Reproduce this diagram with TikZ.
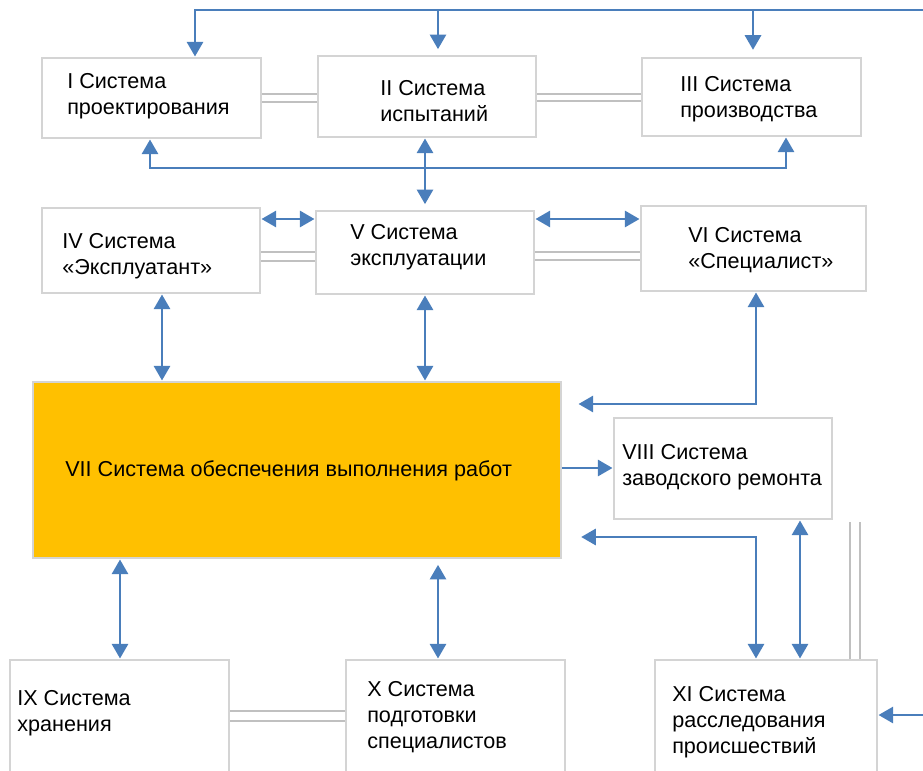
\documentclass[tikz,border=0pt]{standalone}
\usepackage{fontspec}
\setmainfont{Liberation Sans}
\usetikzlibrary{arrows.meta, calc}
\definecolor{cblue}{HTML}{4A7EBB}
\definecolor{cframe}{HTML}{D4D4D4}
\definecolor{clink}{HTML}{C0C0C0}
\definecolor{corange}{HTML}{FFC000}
\tikzset{
  every picture/.style={x=0.75pt, y=-0.75pt},
  sbox/.style={draw=cframe, fill=white, line width=2.2pt, inner sep=0pt},
  lbl/.style={anchor=west, inner sep=0pt, align=left, font=\fontsize{16.2}{19.5}\selectfont},
  ar/.style={-{Triangle[length=11pt, width=12pt]}, draw=cblue, line width=2.2pt},
  dar/.style={{Triangle[length=11pt, width=12pt]}-{Triangle[length=11pt, width=12pt]}, draw=cblue, line width=2.2pt},
  dbl/.style={draw=clink, double=white, line width=1.6pt, double distance=#1},
  dbl/.default=4pt,
}
\newcommand{\sysbox}[5]{\node[sbox, minimum width={(#4-#2)*0.75pt}, minimum height={(#5-#3)*0.75pt}] (#1) at ({(#2+#4)/2},{(#3+#5)/2}) {};}

\begin{document}
\begin{tikzpicture}
  \useasboundingbox (0,0) rectangle (923,770);
  % boxes
  \sysbox{b1}{42}{58}{261}{138}
  \sysbox{b2}{318}{56}{536}{137}
  \sysbox{b3}{642}{58}{861}{136}
  \sysbox{b4}{42}{208}{260}{293}
  \sysbox{b5}{316}{211}{534}{294}
  \sysbox{b6}{641}{206}{866}{291}
  \node[sbox, fill=corange, minimum width={528*0.75pt}, minimum height={176*0.75pt}] (b7) at (297,470) {};
  \sysbox{b8}{614}{418}{832}{519}
  \sysbox{b9}{10}{660}{229}{800}
  \sysbox{b10}{346}{660}{565}{800}
  \sysbox{b11}{655}{660}{877}{800}
  % texts
  \node[lbl] (t1) at (67,96) {I Система\\проектирования};
  \node[lbl] (t2) at (380,101) {II Система\\испытаний};
  \node[lbl] (t3) at (680,99) {III Система\\производства};
  \node[lbl] (t4) at (62,256) {IV Система\\«Эксплуатант»};
  \node[lbl] (t5) at (350,247) {V Система\\эксплуатации};
  \node[lbl] (t6) at (688,250) {VI Система\\«Специалист»};
  \node[lbl] (t7) at (65,471) {VII Система обеспечения выполнения работ};
  \node[lbl] (t8) at (622,467) {VIII Система\\заводского ремонта};
  \node[lbl] (t9) at (17,713) {IX Система\\хранения};
  \node[lbl] (t10) at (367,717) {X Система\\подготовки\\специалистов};
  \node[lbl] (t11) at (672,722) {XI Система\\расследования\\происшествий};
  % grey links
  \draw[dbl] (b1.east |- 0,98) -- (b2.west |- 0,98);
  \draw[dbl] (b2.east |- 0,97.5) -- (b3.west |- 0,97.5);
  \draw[dbl=5pt] (b4.east |- 0,256.5) -- (b5.west |- 0,256.5);
  \draw[dbl=5pt] (b5.east |- 0,256) -- (b6.west |- 0,256);
  \draw[dbl=6pt] (b9.east |- 0,716) -- (b10.west |- 0,716);
  \coordinate (vtop) at (855,522);
  \draw[dbl=6pt] (vtop) -- (b11.north -| vtop);
  % top row
  \coordinate (topR) at (923,10);
  \coordinate (bot) at (0,168);
  \draw[ar] (topR) -| (b1.north -| 195,0);
  \draw[ar, shorten >=4pt] (topR -| 438,0) -- (b2.north -| 438,0);
  \draw[ar, shorten >=5pt] (topR -| 753,0) -- (b3.north -| 753,0);
  \draw[dar] (b1.south -| 150,0) -- (bot -| 150,0) -- (bot -| 786,0) -- (b3.south -| 786,0);
  \draw[dar, shorten >=4pt] (b2.south -| 425,0) -- (b5.north -| 425,0);
  % middle row
  \draw[dar] (b4.east |- 0,219) -- (b5.west |- 0,219);
  \draw[dar] (b5.east |- 0,219) -- (b6.west |- 0,219);
  \draw[dar] (b4.south -| 162,0) -- (b7.north -| 162,0);
  \draw[dar] (b5.south -| 425,0) -- (b7.north -| 425,0);
  \draw[dar, shorten >=12pt] (b6.south -| 756,0) |- (b7.east |- 0,404);
  \draw[ar] (b7.east |- 0,468) -- (b8.west |- 0,468);
  % bottom row
  \draw[dar, shorten <=14pt] (b7.east |- 0,537) -| (b11.north -| 756,0);
  \draw[dar] (b8.south -| 800,0) -- (b11.north -| 800,0);
  \draw[dar] (b7.south -| 120,0) -- (b9.north -| 120,0);
  \draw[dar, shorten <=4pt] (b7.south -| 438,0) -- (b10.north -| 438,0);
  \coordinate (rin) at (923,715);
  \draw[ar] (rin) -- (b11.east |- rin);
\end{tikzpicture}
\end{document}
